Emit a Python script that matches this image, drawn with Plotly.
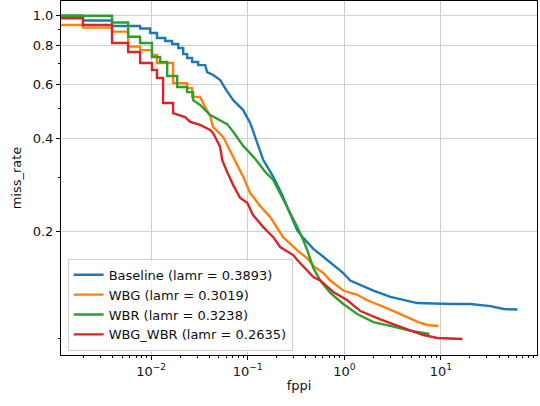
import plotly.graph_objects as go

# ---- data (fppi, miss rate) ----
baseline_fppi = [0.00117, 0.00197, 0.00197, 0.00394, 0.00394, 0.00769, 0.00769, 0.00977, 0.00977,
                 0.0115, 0.0115, 0.0140, 0.0140, 0.0165, 0.0165, 0.0191, 0.0191, 0.0215, 0.0215,
                 0.0236, 0.0236, 0.0266, 0.0266, 0.0307, 0.0307, 0.0363, 0.0380, 0.0439, 0.0519,
                 0.0598, 0.0708, 0.0898, 0.106, 0.125, 0.145, 0.184, 0.228, 0.257, 0.326, 0.376,
                 0.478, 0.606, 0.769, 0.976, 1.15, 1.47, 2.00, 3.00, 3.80, 5.70, 12.5, 20.2, 32.6,
                 44.5, 62.1]
baseline_mr = [1.0, 1.0, 0.965, 0.965, 0.926, 0.926, 0.909, 0.909, 0.879,
               0.879, 0.847, 0.847, 0.828, 0.828, 0.810, 0.810, 0.786, 0.786, 0.751,
               0.751, 0.730, 0.730, 0.708, 0.708, 0.692, 0.692, 0.657, 0.643, 0.619,
               0.575, 0.533, 0.495, 0.450, 0.387, 0.341, 0.301, 0.263, 0.240, 0.202, 0.191,
               0.176, 0.166, 0.156, 0.147, 0.139, 0.1344, 0.129, 0.123, 0.121, 0.1175, 0.1167,
               0.1167, 0.1149, 0.1124, 0.112]

wbg_fppi = [0.00117, 0.00197, 0.00197, 0.00394, 0.00394, 0.00578, 0.00578, 0.00769, 0.00769,
            0.0102, 0.0102, 0.0115, 0.0115, 0.0169, 0.0169, 0.0236, 0.0236, 0.0266, 0.0266,
            0.0322, 0.0363, 0.0409, 0.0439, 0.0557, 0.0708, 0.0898, 0.106, 0.135, 0.171,
            0.202, 0.233, 0.326, 0.414, 0.478, 0.606, 0.716, 0.976, 1.36, 1.73, 2.79, 4.50,
            5.84, 7.24, 9.42]
wbg_mr = [0.933, 0.933, 0.915, 0.915, 0.888, 0.888, 0.794, 0.794, 0.774,
          0.774, 0.746, 0.746, 0.703, 0.703, 0.605, 0.605, 0.583, 0.583, 0.546,
          0.546, 0.506, 0.473, 0.436, 0.405, 0.349, 0.301, 0.267, 0.242, 0.223,
          0.206, 0.192, 0.174, 0.164, 0.155, 0.147, 0.139, 0.129, 0.125, 0.120, 0.113, 0.106,
          0.102, 0.0998, 0.0991]

wbr_fppi = [0.00117, 0.00394, 0.00394, 0.00578, 0.00578, 0.00769, 0.00769, 0.0102, 0.0102,
            0.0124, 0.0124, 0.01466, 0.01466, 0.0186, 0.0186, 0.0236, 0.0236, 0.0272, 0.0272,
            0.0322, 0.0409, 0.0613, 0.0708, 0.0898, 0.120, 0.152, 0.184, 0.233, 0.276, 0.326,
            0.376, 0.414, 0.478, 0.564, 0.716, 0.976, 1.36, 2.00, 3.00, 4.50, 7.60]
wbr_mr = [1.0, 1.0, 0.951, 0.951, 0.855, 0.855, 0.816, 0.816, 0.735,
          0.735, 0.708, 0.708, 0.638, 0.638, 0.588, 0.588, 0.566, 0.566, 0.533,
          0.514, 0.477, 0.446, 0.421, 0.379, 0.344, 0.312, 0.294, 0.255, 0.230, 0.207,
          0.188, 0.174, 0.1526, 0.139, 0.1267, 0.1167, 0.1083, 0.102, 0.0991, 0.0961, 0.0933]

wbgwbr_fppi = [0.00117, 0.00197, 0.00197, 0.00394, 0.00394, 0.00578, 0.00578, 0.00769, 0.00769,
               0.0102, 0.0102, 0.0115, 0.0115, 0.0133, 0.0133, 0.0169, 0.0169, 0.0200, 0.0225,
               0.0254, 0.0300, 0.0322, 0.0409, 0.0439, 0.0519, 0.0545, 0.0613, 0.0708, 0.0836,
               0.0989, 0.114, 0.145, 0.184, 0.217, 0.296, 0.326, 0.478, 0.564, 0.769, 1.074,
               1.47, 2.36, 4.08, 6.59, 9.20, 16.7]
wbgwbr_mr = [0.981, 0.981, 0.933, 0.933, 0.816, 0.816, 0.763, 0.763, 0.703,
             0.703, 0.667, 0.667, 0.629, 0.629, 0.522, 0.522, 0.484, 0.477, 0.470,
             0.453, 0.446, 0.443, 0.427, 0.417, 0.376, 0.341, 0.312, 0.283, 0.257,
             0.248, 0.226, 0.207, 0.192, 0.1784, 0.168, 0.162, 0.1427, 0.139, 0.1276, 0.120,
             0.1107, 0.104, 0.0976, 0.0926, 0.0906, 0.0899]

series_names = ["Baseline (lamr = 0.3893)", "WBG (lamr = 0.3019)",
                "WBR (lamr = 0.3238)", "WBG_WBR (lamr = 0.2635)"]
series_x = [baseline_fppi, wbg_fppi, wbr_fppi, wbgwbr_fppi]
series_y = [baseline_mr, wbg_mr, wbr_mr, wbgwbr_mr]
colors = ["#1f77b4", "#ff7f0e", "#2ca02c", "#d62728"]

x_major = [0.01, 0.1, 1, 10]
x_major_text = ["10<sup>−2</sup>", "10<sup>−1</sup>", "10<sup>0</sup>", "10<sup>1</sup>"]
y_major = [0.2, 0.4, 0.6, 0.8, 1.0]
y_major_text = ["0.2", "0.4", "0.6", "0.8", "1.0"]
y_minor = [0.09, 0.3, 0.5, 0.7, 0.9]

x_minor = [m * 10.0 ** e for e in range(-3, 2) for m in range(2, 10)]

fig = go.Figure()
for name, xs, ys, c in zip(series_names, series_x, series_y, colors):
    fig.add_trace(go.Scatter(x=xs, y=ys, mode="lines", name=name,
                             line=dict(color=c, width=2.4)))

font = dict(family="DejaVu Sans", size=13, color="#111")
fig.update_layout(
    width=540, height=406,
    margin=dict(l=61, r=3, t=1, b=51, autoexpand=False),
    paper_bgcolor="white", plot_bgcolor="white",
    font=font,
    showlegend=True,
    legend=dict(x=0.014, y=0.012, xanchor="left", yanchor="bottom",
                bgcolor="rgba(255,255,255,0.8)", bordercolor="#cccccc", borderwidth=1,
                font=dict(family="DejaVu Sans", size=13, color="#111"),
                tracegroupgap=0, itemwidth=30),
)
fig.update_xaxes(
    type="log", range=[-2.933, 1.995], automargin=False,
    tickmode="array", tickvals=x_major, ticktext=x_major_text,
    ticks="outside", ticklen=4, tickwidth=1, tickcolor="black",
    showgrid=True, gridcolor="#cfcfcf", gridwidth=1,
    showline=True, linecolor="black", linewidth=1, mirror=True,
    zeroline=False,
    minor=dict(tickmode="array", tickvals=x_minor, ticks="outside", ticklen=2,
               tickcolor="black", showgrid=False),
    title=dict(text="fppi", standoff=3, font=font),
)
fig.update_yaxes(
    type="log", range=[-1.098, 0.0476], automargin=False,
    tickmode="array", tickvals=y_major, ticktext=y_major_text,
    ticks="outside", ticklen=4, tickwidth=1, tickcolor="black",
    showgrid=True, gridcolor="#cfcfcf", gridwidth=1,
    showline=True, linecolor="black", linewidth=1, mirror=True,
    zeroline=False,
    minor=dict(tickmode="array", tickvals=y_minor, ticks="outside", ticklen=2,
               tickcolor="black", showgrid=False),
    title=dict(text="miss_rate", standoff=8, font=font),
)

fig.write_html("out.html", config={"displayModeBar": False},
               post_script="document.body.style.margin='0px';")
